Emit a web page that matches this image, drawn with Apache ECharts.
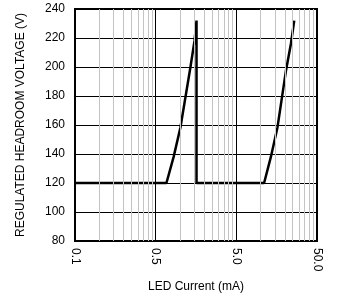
<!DOCTYPE html>
<html>
<head>
<meta charset="utf-8">
<script src="https://cdn.jsdelivr.net/npm/echarts@6/dist/echarts.min.js"></script>
<style>html,body{margin:0;padding:0;background:#fff;}#c{width:343px;height:298px;}</style>
</head>
<body>
<div id="c"></div>
<script>
// LED current (axis position values, log scale) and regulated headroom voltage (V)
var current = [0.1, 1.36, 1.67, 2.03, 2.70, 3.03, 3.21, 3.21, 22.1, 26.8, 32.4, 41.1, 47.5, 52.2];
var voltage = [120, 120, 138, 158.5, 200, 218, 232, 120, 120, 138, 158.5, 197, 216, 232];
// decade positions on the log axis and the labels printed at them
var xDecades = [0.1, 1, 10, 100];
var xTickLabels = ['0.1', '0.5', '5.0', '50.0'];
// minor vertical grid lines
var xMinorGrid = [0.2,0.3,0.4,0.5,0.6,0.7,0.8,0.9,2,3,4,5,6,7,8,9,20,30,40,50,60,70,80,90];
var yTicks = { min: 80, max: 240, interval: 20 };

var font = 'Liberation Sans, Arial, Helvetica, sans-serif';
var chart = echarts.init(document.getElementById('c'), null, {renderer: 'canvas'});
chart.setOption({
  animation: false,
  backgroundColor: '#fff',
  grid: {left: 75, top: 9, width: 242, height: 232, show: true, borderColor: '#000', borderWidth: 2, containLabel: false},
  xAxis: {
    type: 'log', logBase: 10, min: 0.1, max: 100,
    name: 'LED Current (mA)', nameLocation: 'middle', nameGap: 40, nameMoveOverlap: false,
    nameTextStyle: {fontFamily: font, fontSize: 12, color: '#000'},
    axisLine: {show: true, lineStyle: {color: '#000', width: 2}},
    axisTick: {show: false},
    axisLabel: {
      rotate: -90, margin: 7, fontFamily: font, fontSize: 12, color: '#000',
      formatter: function (v) {
        for (var i = 0; i < xDecades.length; i++) {
          if (Math.abs(Math.log10(v) - Math.log10(xDecades[i])) < 1e-6) return xTickLabels[i];
        }
        return '';
      }
    },
    splitLine: {show: true, lineStyle: {color: '#000', width: 1}}
  },
  yAxis: {
    type: 'value', min: yTicks.min, max: yTicks.max, interval: yTicks.interval,
    name: 'REGULATED HEADROOM VOLTAGE (V)', nameLocation: 'middle', nameGap: 48, nameRotate: 90, nameMoveOverlap: false,
    nameTextStyle: {fontFamily: font, fontSize: 12, color: '#000'},
    axisLine: {show: true, lineStyle: {color: '#000', width: 2}},
    axisTick: {show: false},
    axisLabel: {margin: 10, fontFamily: font, fontSize: 12, color: '#000'},
    splitLine: {show: true, lineStyle: {color: '#000', width: 1}}
  },
  series: [
    {
      type: 'line', data: [], silent: true, z: 1,
      markLine: {
        silent: true, symbol: ['none', 'none'], animation: false,
        label: {show: false},
        lineStyle: {color: '#c4c4c4', width: 1, type: 'solid'},
        data: xMinorGrid.map(function (v) { return {xAxis: v}; })
      }
    },
    {
      type: 'line', z: 3,
      data: current.map(function (c, i) { return [c, voltage[i]]; }),
      showSymbol: false, symbol: 'none',
      lineStyle: {color: '#000', width: 2.5}
    }
  ]
});
</script>
</body>
</html>
